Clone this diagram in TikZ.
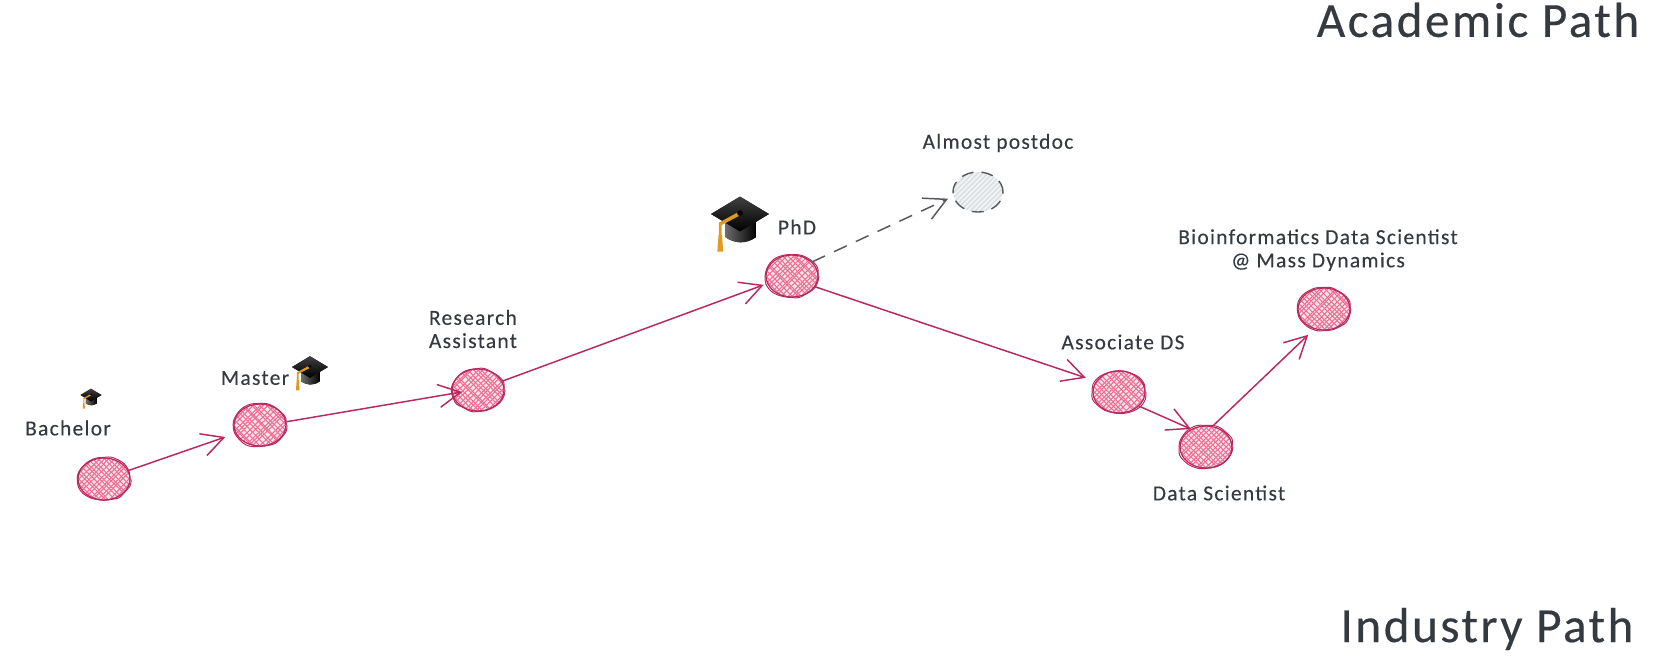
\documentclass[tikz,border=0pt]{standalone}
\usepackage{fontspec}
\setmainfont{Carlito}
\usetikzlibrary{arrows.meta, shapes.geometric, decorations.pathmorphing}
\definecolor{inkrose}{HTML}{B8295F}
\definecolor{hatchrose}{HTML}{EE6F96}
\definecolor{paperrose}{HTML}{FCE6EC}
\definecolor{inkgrey}{HTML}{55595E}
\definecolor{hatchgrey}{HTML}{D5DADE}
\definecolor{textgrey}{HTML}{343A40}
\definecolor{capblack}{HTML}{1E1E1E}
\definecolor{capgold}{HTML}{E09A22}
\pgfmathsetseed{11}
\tikzset{
    stopnode/.style={ellipse, minimum width=0.52cm, minimum height=0.42cm, inner sep=0pt, fill=paperrose,
        path picture={\foreach \d in {-45,-40,...,45} {
            \draw[hatchrose, line width=0.3pt, shift={(path picture bounding box.center)}] ({\d-28+2*rand},-28) -- ({\d+28+2*rand},28);
            \draw[hatchrose, line width=0.3pt, shift={(path picture bounding box.center)}] ({\d+28+2*rand},-28) -- ({\d-28+2*rand},28);
        }},
        postaction={draw=inkrose, line width=0.35pt},
        postaction={draw=inkrose, line width=0.28pt, rounded corners=0.8pt, decorate, decoration={random steps, segment length=2.2pt, amplitude=0.3pt}}},
    ghostnode/.style={ellipse, minimum width=0.5cm, minimum height=0.4cm, inner sep=0pt,
        draw=inkgrey, line width=0.4pt, dash pattern=on 1.2mm off 0.8mm, fill=hatchgrey!35,
        path picture={\foreach \d in {-39,-34,...,39} {
            \draw[hatchgrey, solid, line width=0.3pt, shift={(path picture bounding box.center)}] ({\d-28},28) -- ({\d+28},-28);
        }}},
    hop/.style={draw=inkrose, line width=0.42pt, -{Straight Barb[length=2.2mm, width=2.3mm, line width=0.42pt]}},
    maybehop/.style={draw=inkgrey, line width=0.42pt, dash pattern=on 1.4mm off 1mm, -{Straight Barb[length=2.2mm, width=2.3mm, line width=0.42pt]}},
    smalltext/.style={text=textgrey, font=\fontsize{6.1}{6.6}\selectfont\addfontfeatures{LetterSpace=6, FakeBold=0.2}, inner sep=0pt, align=center},
    pathtitle/.style={text=textgrey, font=\fontsize{14}{16}\selectfont\addfontfeatures{LetterSpace=5, FakeBold=0.3}, inner sep=0pt},
    gradcap/.pic={
        \fill[capblack, left color=capblack!65!white, right color=black] (-0.5,0.15) -- (-0.5,0.8) to[bend right=35] (0.55,0.8) -- (0.55,0.15) -- cycle;
        \fill[capblack, top color=capblack!85!white, bottom color=black] (-1,0) -- (0,-0.6) -- (1,0) -- (0,0.6) -- cycle;
        \fill[capgold] (0,-0.1) -- (0.05,0.02) -- (-0.63,0.38) -- (-0.63,0.72) -- (-0.73,0.72) -- (-0.73,0.3) -- cycle;
        \fill[capgold] (-0.74,0.72) -- (-0.62,0.72) -- (-0.58,1.3) -- (-0.78,1.3) -- cycle;
        \fill[black] (0,-0.03) circle (0.1);
    }
}
\begin{document}
\begin{tikzpicture}[x=0.01cm, y=-0.01cm]
    \useasboundingbox (0,0) rectangle (1665,666);

    % Stops
    \node[stopnode] (bachelor) at (104,479) {};
    \node[stopnode] (master) at (260,425) {};
    \node[stopnode] (research) at (478,390) {};
    \node[stopnode] (phd) at (792,276) {};
    \node[ghostnode] (postdoc) at (978,192) {};
    \node[stopnode] (associate) at (1119,392) {};
    \node[stopnode] (scientist) at (1206,447) {};
    \node[stopnode] (massdyn) at (1324,309) {};

    % Hops
    \draw[hop, shorten >=3pt] (bachelor) -- (master);
    \draw[hop, shorten >=-3pt] (master.7) -- (research.188);
    \draw[hop, shorten >=1pt] (research.20) -- (phd.197);
    \draw[hop, shorten >=3pt] (phd.335) -- (associate.155);
    \draw[hop] (associate.-35) -- (scientist.130);
    \draw[hop, shorten >=2.3pt] (scientist.72) -- (massdyn.244);
    \draw[maybehop, shorten >=1.5pt] (phd.35) -- (postdoc.190);

    % Caps
    \pic[scale=10.5] (capbachelor) at (91,395) {gradcap};
    \pic[scale=18] (capmaster) at (310,367) {gradcap};
    \pic[scale=29] (capphd) at (740,214) {gradcap};

    % Labels
    \node[smalltext] (lbachelor) at (68,428) {Bachelor};
    \node[smalltext] (lmaster) at (255,378) {Master};
    \node[smalltext, align=left] (lresearch) at (473,329) {Research\\Assistant};
    \node[smalltext] (lphd) at (797,227) {PhD};
    \node[smalltext] (lpostdoc) at (998,143) {Almost postdoc};
    \node[smalltext] (lassociate) at (1123,342) {Associate DS};
    \node[smalltext] (lscientist) at (1219,493) {Data Scientist};
    \node[smalltext] (lmassdyn) at (1318,250) {Bioinformatics Data Scientist\\@ Mass Dynamics};

    % Titles
    \node[pathtitle] (academic) at (1478,20) {Academic Path};
    \node[pathtitle] (industry) at (1487,629) {Industry Path};
\end{tikzpicture}
\end{document}
